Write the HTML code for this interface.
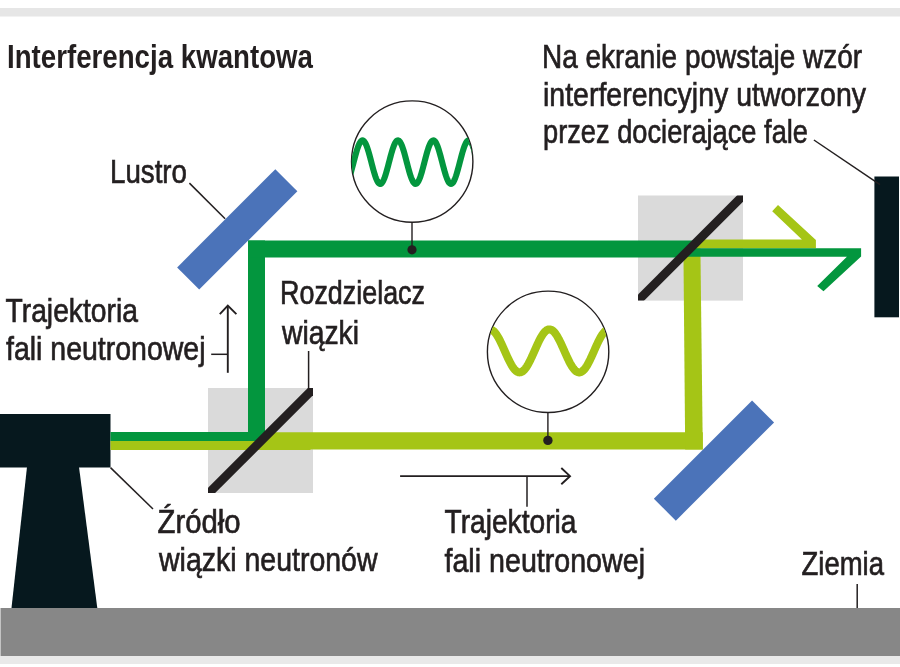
<!DOCTYPE html>
<html><head><meta charset="utf-8">
<style>
html,body{margin:0;padding:0;background:#fff;}
body{width:900px;height:667px;overflow:hidden;}
svg{display:block;}
text{font-family:"Liberation Sans",sans-serif;fill:#231f20;}
.tx{will-change:transform;}
</style></head>
<body>
<svg width="900" height="667" viewBox="0 0 900 667">
<defs>
  <clipPath id="c1"><circle cx="412.2" cy="161.6" r="60.5"/></clipPath>
  <clipPath id="c2"><circle cx="548.1" cy="351.8" r="60.5"/></clipPath>
  <clipPath id="sq1"><rect x="208" y="388" width="105" height="105"/></clipPath>
  <clipPath id="sq2"><rect x="638" y="195.5" width="105" height="105.1"/></clipPath>
</defs>
<rect x="0" y="0" width="900" height="667" fill="#fff"/>
<rect x="0" y="8" width="900" height="8.5" fill="#e6e6e6"/>
<rect x="0" y="656" width="900" height="8" fill="#e9e9e9"/>
<rect x="1" y="608" width="899" height="48" fill="#878787"/>
<rect x="0" y="608" width="1" height="48" fill="#c4c4c4"/>

<!-- gray squares -->
<rect x="208" y="388" width="105" height="105" fill="#dadada"/>
<rect x="638" y="195.5" width="105" height="105.1" fill="#dadada"/>

<!-- source -->
<rect x="0" y="414" width="110.5" height="53.5" fill="#06181e"/>
<polygon points="27,467 79,467 97.3,608 11.5,608" fill="#06181e"/>

<!-- light green path -->
<rect x="110.5" y="441" width="200" height="9" fill="#a5c516"/>
<polygon points="250,432.3 702.8,432.3 702.8,449.4 250,449.4" fill="#a5c516"/>
<polygon points="683.4,248 700.4,248 702.8,449.4 685.2,449.4" fill="#a5c516"/>
<polygon points="699,239.6 801.9,239.6 772.2,211.2 778,205.1 815.9,240 815.9,248.2 690.4,248.2" fill="#a5c516"/>

<!-- dark green path -->
<rect x="110.5" y="432" width="154.5" height="9" fill="#03963e"/>
<rect x="248" y="240.5" width="17" height="200.5" fill="#03963e"/>
<polygon points="248,240.6 699,240.6 681.5,257.5 248,257.5" fill="#03963e"/>
<polygon points="690.4,248.2 861.1,248.2 861.1,256.5 823.5,291.3 817.2,285.9 846.9,256.7 681.9,256.7" fill="#03963e"/>

<!-- splitters -->
<line x1="180" y1="522" x2="340" y2="362" stroke="#231f20" stroke-width="8.7" clip-path="url(#sq1)"/>
<line x1="610" y1="328.6" x2="770" y2="168.6" stroke="#231f20" stroke-width="8.7" clip-path="url(#sq2)"/>

<!-- mirrors -->
<rect x="-69.4" y="-15.6" width="138.8" height="31.2" fill="#4b73b9" transform="translate(237.25,229.35) rotate(-45)"/>
<rect x="-69.45" y="-15.55" width="138.9" height="31.1" fill="#4b73b9" transform="translate(713.95,460.55) rotate(-45)"/>

<!-- screen -->
<rect x="874.4" y="176.5" width="24.6" height="140.8" fill="#06181e"/>

<!-- circles -->
<circle cx="412.2" cy="161.6" r="60.7" fill="#fff" stroke="#231f20" stroke-width="1.4"/>
<path fill="none" stroke="#03963e" stroke-width="6.1" clip-path="url(#c1)" d="M345.0,183.89 L345.5,183.73 L346.0,183.41 L346.5,182.92 L347.0,182.26 L347.5,181.45 L348.0,180.49 L348.5,179.38 L349.0,178.13 L349.5,176.76 L350.0,175.28 L350.5,173.69 L351.0,172.01 L351.5,170.25 L352.0,168.43 L352.5,166.56 L353.0,164.65 L353.5,162.73 L354.0,160.80 L354.5,158.88 L355.0,156.99 L355.5,155.14 L356.0,153.34 L356.5,151.61 L357.0,149.97 L357.5,148.42 L358.0,146.98 L358.5,145.66 L359.0,144.46 L359.5,143.41 L360.0,142.51 L360.5,141.76 L361.0,141.17 L361.5,140.74 L362.0,140.49 L362.5,140.40 L363.0,140.49 L363.5,140.74 L364.0,141.17 L364.5,141.76 L365.0,142.51 L365.5,143.41 L366.0,144.46 L366.5,145.66 L367.0,146.98 L367.5,148.42 L368.0,149.97 L368.5,151.61 L369.0,153.34 L369.5,155.14 L370.0,156.99 L370.5,158.88 L371.0,160.80 L371.5,162.73 L372.0,164.65 L372.5,166.56 L373.0,168.43 L373.5,170.25 L374.0,172.01 L374.5,173.69 L375.0,175.28 L375.5,176.76 L376.0,178.13 L376.5,179.38 L377.0,180.49 L377.5,181.45 L378.0,182.26 L378.5,182.92 L379.0,183.41 L379.5,183.73 L380.0,183.89 L380.5,183.87 L381.0,183.68 L381.5,183.32 L382.0,182.80 L382.5,182.11 L383.0,181.27 L383.5,180.27 L384.0,179.14 L384.5,177.87 L385.0,176.47 L385.5,174.97 L386.0,173.36 L386.5,171.66 L387.0,169.89 L387.5,168.06 L388.0,166.18 L388.5,164.27 L389.0,162.34 L389.5,160.41 L390.0,158.50 L390.5,156.61 L391.0,154.77 L391.5,152.99 L392.0,151.28 L392.5,149.65 L393.0,148.12 L393.5,146.70 L394.0,145.41 L394.5,144.24 L395.0,143.22 L395.5,142.34 L396.0,141.63 L396.5,141.07 L397.0,140.68 L397.5,140.45 L398.0,140.40 L398.5,140.52 L399.0,140.81 L399.5,141.27 L400.0,141.89 L400.5,142.68 L401.0,143.61 L401.5,144.69 L402.0,145.91 L402.5,147.26 L403.0,148.72 L403.5,150.29 L404.0,151.95 L404.5,153.69 L405.0,155.50 L405.5,157.36 L406.0,159.26 L406.5,161.19 L407.0,163.11 L407.5,165.04 L408.0,166.94 L408.5,168.80 L409.0,170.61 L409.5,172.35 L410.0,174.01 L410.5,175.58 L411.0,177.04 L411.5,178.39 L412.0,179.61 L412.5,180.69 L413.0,181.62 L413.5,182.41 L414.0,183.03 L414.5,183.49 L415.0,183.78 L415.5,183.90 L416.0,183.85 L416.5,183.62 L417.0,183.23 L417.5,182.67 L418.0,181.96 L418.5,181.08 L419.0,180.06 L419.5,178.89 L420.0,177.60 L420.5,176.18 L421.0,174.65 L421.5,173.03 L422.0,171.31 L422.5,169.53 L423.0,167.69 L423.5,165.80 L424.0,163.89 L424.5,161.96 L425.0,160.03 L425.5,158.12 L426.0,156.24 L426.5,154.41 L427.0,152.64 L427.5,150.94 L428.0,149.33 L428.5,147.83 L429.0,146.43 L429.5,145.16 L430.0,144.03 L430.5,143.03 L431.0,142.19 L431.5,141.50 L432.0,140.98 L432.5,140.62 L433.0,140.43 L433.5,140.41 L434.0,140.57 L434.5,140.89 L435.0,141.38 L435.5,142.04 L436.0,142.85 L436.5,143.81 L437.0,144.92 L437.5,146.17 L438.0,147.54 L438.5,149.02 L439.0,150.61 L439.5,152.29 L440.0,154.05 L440.5,155.87 L441.0,157.74 L441.5,159.65 L442.0,161.57 L442.5,163.50 L443.0,165.42 L443.5,167.31 L444.0,169.16 L444.5,170.96 L445.0,172.69 L445.5,174.33 L446.0,175.88 L446.5,177.32 L447.0,178.64 L447.5,179.84 L448.0,180.89 L448.5,181.79 L449.0,182.54 L449.5,183.13 L450.0,183.56 L450.5,183.81 L451.0,183.90 L451.5,183.81 L452.0,183.56 L452.5,183.13 L453.0,182.54 L453.5,181.79 L454.0,180.89 L454.5,179.84 L455.0,178.64 L455.5,177.32 L456.0,175.88 L456.5,174.33 L457.0,172.69 L457.5,170.96 L458.0,169.16 L458.5,167.31 L459.0,165.42 L459.5,163.50 L460.0,161.57 L460.5,159.65 L461.0,157.74 L461.5,155.87 L462.0,154.05 L462.5,152.29 L463.0,150.61 L463.5,149.02 L464.0,147.54 L464.5,146.17 L465.0,144.92 L465.5,143.81 L466.0,142.85 L466.5,142.04 L467.0,141.38 L467.5,140.89 L468.0,140.57 L468.5,140.41 L469.0,140.43 L469.5,140.62 L470.0,140.98 L470.5,141.50 L471.0,142.19 L471.5,143.03 L472.0,144.03 L472.5,145.16 L473.0,146.43 L473.5,147.83 L474.0,149.33 L474.5,150.94 L475.0,152.64 L475.5,154.41 L476.0,156.24 L476.5,158.12 L477.0,160.03 L477.5,161.96 L478.0,163.89 L478.5,165.80 L479.0,167.69 L479.5,169.53 L480.0,171.31"/>
<line x1="412" y1="222.3" x2="412" y2="249" stroke="#231f20" stroke-width="1.4"/>
<circle cx="412" cy="249.8" r="4.6" fill="#231f20"/>

<circle cx="548.1" cy="351.8" r="60.7" fill="#fff" stroke="#231f20" stroke-width="1.4"/>
<path fill="none" stroke="#a5c516" stroke-width="8" clip-path="url(#c2)" d="M480.0,339.89 L480.5,338.93 L481.0,338.01 L481.5,337.12 L482.0,336.27 L482.5,335.46 L483.0,334.69 L483.5,333.97 L484.0,333.30 L484.5,332.67 L485.0,332.09 L485.5,331.57 L486.0,331.10 L486.5,330.69 L487.0,330.33 L487.5,330.03 L488.0,329.79 L488.5,329.60 L489.0,329.48 L489.5,329.41 L490.0,329.40 L490.5,329.46 L491.0,329.57 L491.5,329.74 L492.0,329.98 L492.5,330.27 L493.0,330.61 L493.5,331.01 L494.0,331.47 L494.5,331.99 L495.0,332.55 L495.5,333.17 L496.0,333.83 L496.5,334.54 L497.0,335.30 L497.5,336.10 L498.0,336.95 L498.5,337.83 L499.0,338.74 L499.5,339.70 L500.0,340.68 L500.5,341.69 L501.0,342.72 L501.5,343.78 L502.0,344.86 L502.5,345.96 L503.0,347.07 L503.5,348.19 L504.0,349.31 L504.5,350.45 L505.0,351.58 L505.5,352.71 L506.0,353.84 L506.5,354.96 L507.0,356.06 L507.5,357.15 L508.0,358.23 L508.5,359.28 L509.0,360.32 L509.5,361.32 L510.0,362.30 L510.5,363.24 L511.0,364.15 L511.5,365.03 L512.0,365.86 L512.5,366.65 L513.0,367.40 L513.5,368.11 L514.0,368.76 L514.5,369.37 L515.0,369.92 L515.5,370.42 L516.0,370.87 L516.5,371.26 L517.0,371.60 L517.5,371.88 L518.0,372.09 L518.5,372.26 L519.0,372.36 L519.5,372.40 L520.0,372.38 L520.5,372.30 L521.0,372.17 L521.5,371.97 L522.0,371.72 L522.5,371.40 L523.0,371.03 L523.5,370.61 L524.0,370.13 L524.5,369.59 L525.0,369.01 L525.5,368.37 L526.0,367.69 L526.5,366.96 L527.0,366.18 L527.5,365.36 L528.0,364.51 L528.5,363.61 L529.0,362.68 L529.5,361.72 L530.0,360.72 L530.5,359.70 L531.0,358.65 L531.5,357.59 L532.0,356.50 L532.5,355.40 L533.0,354.29 L533.5,353.16 L534.0,352.03 L534.5,350.90 L535.0,349.77 L535.5,348.64 L536.0,347.51 L536.5,346.40 L537.0,345.30 L537.5,344.21 L538.0,343.15 L538.5,342.10 L539.0,341.08 L539.5,340.08 L540.0,339.12 L540.5,338.19 L541.0,337.29 L541.5,336.44 L542.0,335.62 L542.5,334.84 L543.0,334.11 L543.5,333.43 L544.0,332.79 L544.5,332.21 L545.0,331.67 L545.5,331.19 L546.0,330.77 L546.5,330.40 L547.0,330.08 L547.5,329.83 L548.0,329.63 L548.5,329.50 L549.0,329.42 L549.5,329.40 L550.0,329.44 L550.5,329.54 L551.0,329.71 L551.5,329.92 L552.0,330.20 L552.5,330.54 L553.0,330.93 L553.5,331.38 L554.0,331.88 L554.5,332.43 L555.0,333.04 L555.5,333.69 L556.0,334.40 L556.5,335.15 L557.0,335.94 L557.5,336.77 L558.0,337.65 L558.5,338.56 L559.0,339.50 L559.5,340.48 L560.0,341.48 L560.5,342.52 L561.0,343.57 L561.5,344.65 L562.0,345.74 L562.5,346.84 L563.0,347.96 L563.5,349.09 L564.0,350.22 L564.5,351.35 L565.0,352.49 L565.5,353.61 L566.0,354.73 L566.5,355.84 L567.0,356.94 L567.5,358.02 L568.0,359.08 L568.5,360.11 L569.0,361.12 L569.5,362.10 L570.0,363.06 L570.5,363.97 L571.0,364.85 L571.5,365.70 L572.0,366.50 L572.5,367.26 L573.0,367.97 L573.5,368.63 L574.0,369.25 L574.5,369.81 L575.0,370.33 L575.5,370.79 L576.0,371.19 L576.5,371.53 L577.0,371.82 L577.5,372.06 L578.0,372.23 L578.5,372.34 L579.0,372.40 L579.5,372.39 L580.0,372.32 L580.5,372.20 L581.0,372.01 L581.5,371.77 L582.0,371.47 L582.5,371.11 L583.0,370.70 L583.5,370.23 L584.0,369.71 L584.5,369.13 L585.0,368.50 L585.5,367.83 L586.0,367.11 L586.5,366.34 L587.0,365.53 L587.5,364.68 L588.0,363.79 L588.5,362.87 L589.0,361.91 L589.5,360.92 L590.0,359.91 L590.5,358.87 L591.0,357.80 L591.5,356.72 L592.0,355.62 L592.5,354.51 L593.0,353.39 L593.5,352.26 L594.0,351.13 L594.5,349.99 L595.0,348.86 L595.5,347.74 L596.0,346.62 L596.5,345.52 L597.0,344.43 L597.5,343.36 L598.0,342.31 L598.5,341.28 L599.0,340.28 L599.5,339.31 L600.0,338.37 L600.5,337.47 L601.0,336.60 L601.5,335.78 L602.0,334.99 L602.5,334.25 L603.0,333.56 L603.5,332.91 L604.0,332.32 L604.5,331.77 L605.0,331.28 L605.5,330.85 L606.0,330.47 L606.5,330.14 L607.0,329.88 L607.5,329.67 L608.0,329.52 L608.5,329.43 L609.0,329.40 L609.5,329.43 L610.0,329.52 L610.5,329.67 L611.0,329.88 L611.5,330.14 L612.0,330.47 L612.5,330.85 L613.0,331.28 L613.5,331.77 L614.0,332.32 L614.5,332.91 L615.0,333.56 L615.5,334.25 L616.0,334.99"/>
<line x1="547.9" y1="412.5" x2="547.9" y2="440" stroke="#231f20" stroke-width="1.4"/>
<circle cx="547.9" cy="440.4" r="4.7" fill="#231f20"/>

<!-- leader lines -->
<g stroke="#231f20" stroke-width="1.5" fill="none">
  <line x1="189.4" y1="183.1" x2="225.1" y2="218.8"/>
  <line x1="110.5" y1="467.6" x2="153" y2="509"/>
  <line x1="308.6" y1="351" x2="308.6" y2="390"/>
  <line x1="813.9" y1="140" x2="880" y2="184.6"/>
  <line x1="857.2" y1="584" x2="857.2" y2="608"/>
  <line x1="527" y1="476" x2="527" y2="506.7"/>
  <line x1="211.2" y1="354.3" x2="227.8" y2="354.3"/>
</g>
<g stroke="#231f20" stroke-width="1.9" fill="none">
  <line x1="227.8" y1="306" x2="227.8" y2="372.8"/>
  <polyline points="219.8,314.1 227.8,305.6 236.4,314.1"/>
  <line x1="400.1" y1="476.15" x2="570" y2="476.15"/>
  <polyline points="561.3,468 570,476.15 561.3,484.25"/>
</g>

<!-- texts -->
<g class="tx">
<text x="7.00" y="67.8" font-size="34.0" font-weight="bold" stroke="#231f20" stroke-width="0.0" textLength="306.00" lengthAdjust="spacingAndGlyphs">Interferencja kwantowa</text>
<text x="542.00" y="68.3" font-size="34.0" stroke="#231f20" stroke-width="0.7" textLength="320.00" lengthAdjust="spacingAndGlyphs">Na ekranie powstaje wzór</text>
<text x="543.00" y="105.5" font-size="34.0" stroke="#231f20" stroke-width="0.7" textLength="323.00" lengthAdjust="spacingAndGlyphs">interferencyjny utworzony</text>
<text x="543.00" y="143.0" font-size="34.0" stroke="#231f20" stroke-width="0.7" textLength="265.00" lengthAdjust="spacingAndGlyphs">przez docierające fale</text>
<text x="110.00" y="183.1" font-size="34.0" stroke="#231f20" stroke-width="0.7" textLength="77.00" lengthAdjust="spacingAndGlyphs">Lustro</text>
<text x="5.50" y="322.0" font-size="34.0" stroke="#231f20" stroke-width="0.7" textLength="132.50" lengthAdjust="spacingAndGlyphs">Trajektoria</text>
<text x="6.00" y="360.3" font-size="34.0" stroke="#231f20" stroke-width="0.7" textLength="199.50" lengthAdjust="spacingAndGlyphs">fali neutronowej</text>
<text x="280.00" y="304.4" font-size="34.0" stroke="#231f20" stroke-width="0.7" textLength="145.00" lengthAdjust="spacingAndGlyphs">Rozdzielacz</text>
<text x="282.00" y="343.6" font-size="34.0" stroke="#231f20" stroke-width="0.7" textLength="77.00" lengthAdjust="spacingAndGlyphs">wiązki</text>
<text x="157.50" y="532.8" font-size="34.0" stroke="#231f20" stroke-width="0.7" textLength="83.00" lengthAdjust="spacingAndGlyphs">Źródło</text>
<text x="159.00" y="570.9" font-size="34.0" stroke="#231f20" stroke-width="0.7" textLength="218.50" lengthAdjust="spacingAndGlyphs">wiązki neutronów</text>
<text x="444.50" y="533.0" font-size="34.0" stroke="#231f20" stroke-width="0.7" textLength="132.00" lengthAdjust="spacingAndGlyphs">Trajektoria</text>
<text x="444.50" y="572.0" font-size="34.0" stroke="#231f20" stroke-width="0.7" textLength="200.50" lengthAdjust="spacingAndGlyphs">fali neutronowej</text>
<text x="801.50" y="574.5" font-size="34.0" stroke="#231f20" stroke-width="0.7" textLength="82.50" lengthAdjust="spacingAndGlyphs">Ziemia</text>
</g>
</svg>
</body></html>
